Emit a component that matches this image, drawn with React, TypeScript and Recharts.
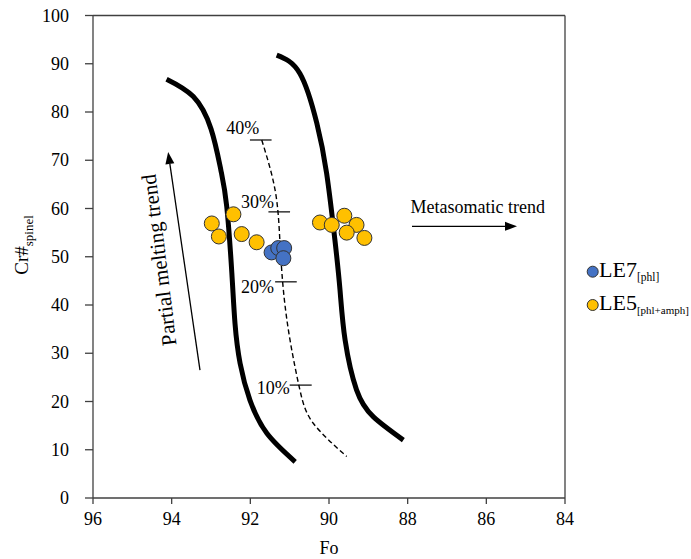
import React from 'react';
import { ComposedChart, XAxis, YAxis, Line, Scatter, ReferenceLine, ReferenceDot } from 'recharts';

const xTicks = [96, 94, 92, 90, 88, 86, 84];
const yTicks = [0, 10, 20, 30, 40, 50, 60, 70, 80, 90, 100];

const leftCurve = [
  { x: 94.13, y: 86.8 }, { x: 93.45, y: 83.2 }, { x: 93.0, y: 76.5 }, { x: 92.75, y: 68.0 },
  { x: 92.6, y: 60.4 }, { x: 92.47, y: 46.6 }, { x: 92.39, y: 36.2 }, { x: 92.26, y: 27.9 },
  { x: 92.01, y: 20.3 }, { x: 91.58, y: 13.4 }, { x: 90.86, y: 7.5 },
];
const rightCurve = [
  { x: 91.33, y: 91.8 }, { x: 90.74, y: 88.0 }, { x: 90.31, y: 77.7 }, { x: 90.06, y: 67.3 },
  { x: 89.85, y: 53.5 }, { x: 89.72, y: 43.1 }, { x: 89.59, y: 32.7 }, { x: 89.3, y: 22.4 },
  { x: 88.87, y: 16.8 }, { x: 88.11, y: 12.0 },
];
const meltCurve = [
  { x: 91.71, y: 74.2 }, { x: 91.37, y: 63.8 }, { x: 91.25, y: 53.5 }, { x: 91.16, y: 43.1 },
  { x: 90.99, y: 32.7 }, { x: 90.74, y: 22.4 }, { x: 90.4, y: 15.5 }, { x: 89.55, y: 8.6 },
];

const le7 = [
  { x: 91.46, y: 50.9 }, { x: 91.29, y: 51.8 }, { x: 91.14, y: 51.8 }, { x: 91.16, y: 49.7 },
];
const le5 = [
  { x: 92.98, y: 56.9 }, { x: 92.8, y: 54.2 }, { x: 92.43, y: 58.8 }, { x: 92.22, y: 54.7 },
  { x: 91.84, y: 53.0 }, { x: 90.23, y: 57.1 }, { x: 89.93, y: 56.6 }, { x: 89.61, y: 58.5 },
  { x: 89.3, y: 56.6 }, { x: 89.55, y: 55.0 }, { x: 89.1, y: 53.9 },
];

const meltTicks = [
  { label: '40%', y: 74.2, x1: 92.01, x2: 91.46, lx: 92.19, ly: 76.7 },
  { label: '30%', y: 59.3, x1: 91.54, x2: 90.99, lx: 91.82, ly: 61.4 },
  { label: '20%', y: 44.8, x1: 91.37, x2: 90.82, lx: 91.82, ly: 43.8 },
  { label: '10%', y: 23.4, x1: 91.0, x2: 90.44, lx: 91.42, ly: 22.8 },
];

const arrows = [
  { from: { x: 93.28, y: 26.5 }, to: { x: 94.09, y: 71.7 } },
  { from: { x: 87.89, y: 56.3 }, to: { x: 85.22, y: 56.3 } },
];

const notes = [
  { text: 'Partial melting trend', x: 94.32, y: 49.3, angle: -97, size: 21 },
  { text: 'Metasomatic trend', x: 86.22, y: 60.3, angle: 0, size: 18 },
];

const FONT = '"Liberation Serif", "Times New Roman", serif';
const AXIS = '#404040';

const Dot = (fill: string) => (props: any) => (
  <circle cx={props.cx} cy={props.cy} r={7.5} fill={fill} stroke="#333" strokeWidth={1} />
);

const ArrowShape = (props: any) => {
  const { x1, y1, x2, y2 } = props;
  const dx = x2 - x1, dy = y2 - y1;
  const len = Math.sqrt(dx * dx + dy * dy) || 1;
  const ux = dx / len, uy = dy / len;
  const hl = 12, hw = 4.5;
  const bx = x2 - ux * hl, by = y2 - uy * hl;
  const pts = `${x2},${y2} ${bx - uy * hw},${by + ux * hw} ${bx + uy * hw},${by - ux * hw}`;
  return (
    <g>
      <line x1={x1} y1={y1} x2={bx} y2={by} stroke="#000" strokeWidth={1.3} />
      <polygon points={pts} fill="#000" />
    </g>
  );
};

const TextShape = (text: string, angle: number, size: number) => (props: any) => (
  <text
    x={props.cx}
    y={props.cy}
    textAnchor="middle"
    dominantBaseline="central"
    fontFamily={FONT}
    fontSize={size}
    fill="#000"
    transform={angle ? `rotate(${angle}, ${props.cx}, ${props.cy})` : undefined}
  >
    {text}
  </text>
);

const XTick = (props: any) => (
  <text x={props.x} y={props.y} dy={13} textAnchor="middle" fontFamily={FONT} fontSize={18} fill="#000">
    {props.payload.value}
  </text>
);

const YTick = (props: any) => (
  <text x={props.x} y={props.y} dy={6} textAnchor="end" fontFamily={FONT} fontSize={18} fill="#000">
    {props.payload.value}
  </text>
);

const YLabel = () => (
  <text x={28} y={245} textAnchor="middle" fontFamily={FONT} fontSize={19} fill="#000" transform="rotate(-90, 28, 245)">
    <tspan>Cr#</tspan>
    <tspan fontSize={13} dy={5}>spinel</tspan>
  </text>
);

const XLabel = () => (
  <text x={329} y={554} textAnchor="middle" fontFamily={FONT} fontSize={18} fill="#000">Fo</text>
);

export default function App() {
  return (
    <div style={{ position: 'absolute', left: 0, top: 0, width: 691, height: 559, background: '#fff', fontFamily: FONT }}>
      <ComposedChart width={691} height={559} margin={{ top: 15.5, right: 126, bottom: 21, left: 33 }} style={{ fontFamily: FONT }}>
        <XAxis
          type="number"
          dataKey="x"
          domain={[84, 96]}
          reversed
          ticks={xTicks}
          interval={0}
          allowDataOverflow
          stroke={AXIS}
          strokeWidth={1.3}
          tickSize={6}
          tickMargin={8}
          height={40}
          tick={XTick}
          label={XLabel}
        />
        <YAxis
          type="number"
          dataKey="y"
          domain={[0, 100]}
          ticks={yTicks}
          interval={0}
          allowDataOverflow
          stroke={AXIS}
          strokeWidth={1.3}
          tickSize={8}
          tickMargin={16}
          width={60}
          tick={YTick}
          label={YLabel}
        />
        <ReferenceLine y={100} stroke={AXIS} strokeWidth={1.3} />
        <ReferenceLine x={84} stroke={AXIS} strokeWidth={1.3} />
        <Scatter name="LE5" data={le5} shape={Dot('#FFC000')} isAnimationActive={false} />
        <Scatter name="LE7" data={le7} shape={Dot('#4472C4')} isAnimationActive={false} />
        <Line data={leftCurve} dataKey="y" type="natural" stroke="#000" strokeWidth={5} dot={false} activeDot={false} isAnimationActive={false} />
        <Line data={rightCurve} dataKey="y" type="natural" stroke="#000" strokeWidth={5} dot={false} activeDot={false} isAnimationActive={false} />
        <Line data={meltCurve} dataKey="y" type="natural" stroke="#000" strokeWidth={1.4} strokeDasharray="5 3" dot={false} activeDot={false} isAnimationActive={false} />
        {meltTicks.map((t) => (
          <ReferenceLine key={'s' + t.label} segment={[{ x: t.x1, y: t.y }, { x: t.x2, y: t.y }]} stroke="#000" strokeWidth={1.2} />
        ))}
        {meltTicks.map((t) => (
          <ReferenceDot key={'l' + t.label} x={t.lx} y={t.ly} r={0} shape={TextShape(t.label, 0, 18)} />
        ))}
        {arrows.map((a, i) => (
          <ReferenceLine key={'a' + i} segment={[a.from, a.to]} shape={ArrowShape} />
        ))}
        {notes.map((n) => (
          <ReferenceDot key={n.text} x={n.x} y={n.y} r={0} shape={TextShape(n.text, n.angle, n.size)} />
        ))}
      </ComposedChart>
      <svg width={111} height={70} style={{ position: 'absolute', left: 580, top: 250 }}>
        <circle cx={12.7} cy={21.7} r={5.5} fill="#4472C4" stroke="#333" strokeWidth={1} />
        <text x={19} y={27} fontFamily={FONT} fontSize={22} fill="#000">
          <tspan>LE7</tspan>
          <tspan fontSize={11.5} dy={4}>[phl]</tspan>
        </text>
        <circle cx={12.7} cy={55} r={5.5} fill="#FFC000" stroke="#333" strokeWidth={1} />
        <text x={19} y={60} fontFamily={FONT} fontSize={22} fill="#000">
          <tspan>LE5</tspan>
          <tspan fontSize={11} dy={4}>[phl+amph]</tspan>
        </text>
      </svg>
    </div>
  );
}
